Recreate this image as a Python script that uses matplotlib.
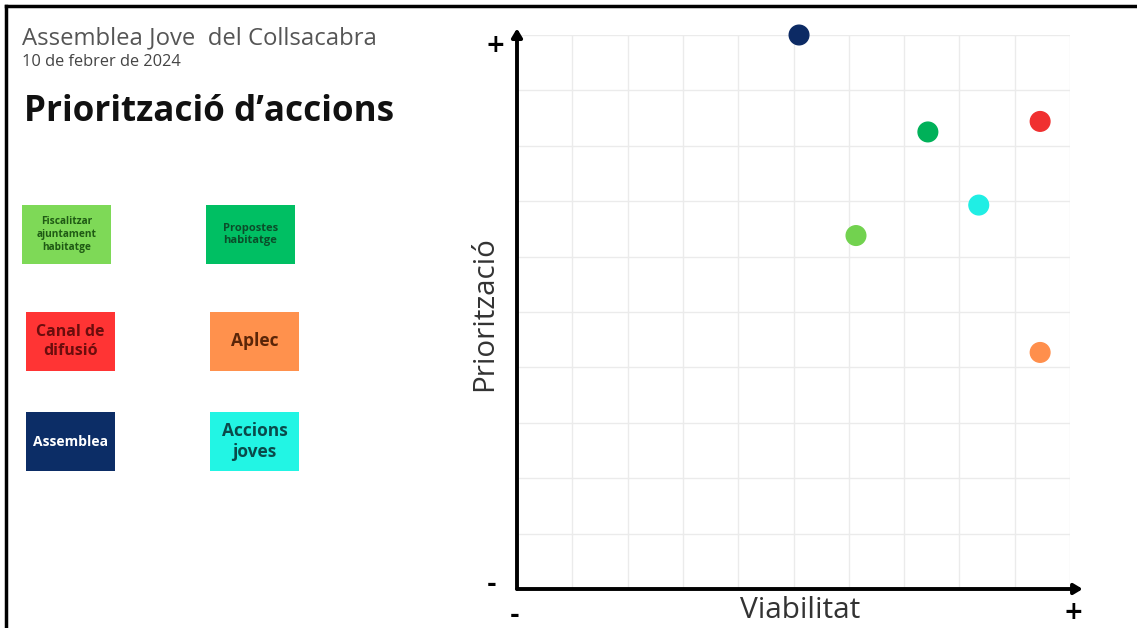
import matplotlib.pyplot as plt
from matplotlib.patches import Rectangle
from matplotlib.lines import Line2D

plt.rcParams['font.family'] = ['Open Sans', 'DejaVu Sans']

# actions: name, viability (x), priority (y), colour
labels = ["Fiscalitzar\najuntament\nhabitatge", "Propostes\nhabitatge",
          "Canal de\ndifusió", "Aplec", "Assemblea", "Accions\njoves"]
viabilitat = [6.13, 7.43, 9.46, 9.46, 5.1, 8.35]
prioritzacio = [6.38, 8.25, 8.44, 4.27, 10.0, 6.93]
colors = ["#72d24f", "#00b159", "#f03030", "#ff8f4c", "#0c2a64", "#20eee4"]
box_colors = ["#7ed957", "#00bf63", "#ff3434", "#ff914d", "#0c2d66", "#22f5e4"]
text_colors = ["#1f5a14", "#0b4d2a", "#6b0d0d", "#5a2508", "white", "#0a4a4a"]
text_sizes = [7.3, 8, 11.5, 12.5, 10, 12.5]

W, H = 1137, 628
fig = plt.figure(figsize=(W / 100, H / 100), dpi=100)

# frame lines (left and top)
fig.add_artist(Line2D([6 / W, 6 / W], [0, 1 - 6 / H], color="black", lw=2.5))
fig.add_artist(Line2D([6 / W, 1], [1 - 6 / H, 1 - 6 / H], color="black", lw=2.5))

# header
fig.text(22 / W, 1 - 38 / H, "Assemblea Jove  del Collsacabra", fontsize=17.2,
         color="#555555", va="center")
fig.text(22 / W, 1 - 62 / H, "10 de febrer de 2024", fontsize=11.8,
         color="#444444", va="center")
fig.text(24 / W, 1 - 112 / H, "Priorització d’accions", fontsize=25.2,
         fontweight="bold", color="#111111", va="center")

# legend boxes
box_pos = [(22, 205), (206, 205), (26, 312), (210, 312), (26, 412), (210, 412)]
bw, bh = 89, 59
for (bx, by), lab, bc, tc, ts in zip(box_pos, labels, box_colors, text_colors, text_sizes):
    fig.add_artist(Rectangle((bx / W, 1 - (by + bh) / H), bw / W, bh / H,
                             facecolor=bc, edgecolor="none"))
    fig.text((bx + bw / 2) / W, 1 - (by + bh / 2) / H, lab, ha="center", va="center",
             fontsize=ts, fontweight="bold", color=tc, linespacing=1.2)

# scatter plot
ax = fig.add_axes([517 / W, 1 - 589 / H, (1070 - 517) / W, (589 - 35) / H])
ax.set_xlim(0, 10)
ax.set_ylim(0, 10)
ax.set_xticks(range(11))
ax.set_yticks(range(11))
ax.grid(True, color="#ebebeb", lw=1)
ax.tick_params(length=0, labelbottom=False, labelleft=False)
for s in ax.spines.values():
    s.set_visible(False)
ax.scatter(viabilitat, prioritzacio, s=200, c=colors, zorder=3, clip_on=False)

# axis arrows
ax.annotate("", xy=(0, 1.012), xytext=(0, 0), xycoords="axes fraction",
            arrowprops=dict(arrowstyle="-|>,head_length=0.5,head_width=0.3",
                            color="black", lw=2.8, shrinkA=0, shrinkB=0))
ax.annotate("", xy=(1.023, 0), xytext=(0, 0), xycoords="axes fraction",
            arrowprops=dict(arrowstyle="-|>,head_length=0.5,head_width=0.3",
                            color="black", lw=2.8, shrinkA=0, shrinkB=0))

pm = dict(fontsize=17, fontweight="bold", ha="center", va="center", color="black",
          family="DejaVu Sans")
fig.text(495 / W, 1 - 45 / H, "+", **pm)
fig.text(492 / W, 1 - 584 / H, "-", **pm)
fig.text(515 / W, 1 - 615 / H, "-", **pm)
fig.text(1073 / W, 1 - 612 / H, "+", **pm)

fig.text(800 / W, 1 - 610 / H, "Viabilitat", fontsize=21.5, color="#333333",
         ha="center", va="center")
fig.text(485 / W, 1 - 314 / H, "Priorització", fontsize=21.3, color="#333333",
         ha="center", va="center", rotation=90)

fig.savefig("out.png", dpi=100, facecolor="white")
